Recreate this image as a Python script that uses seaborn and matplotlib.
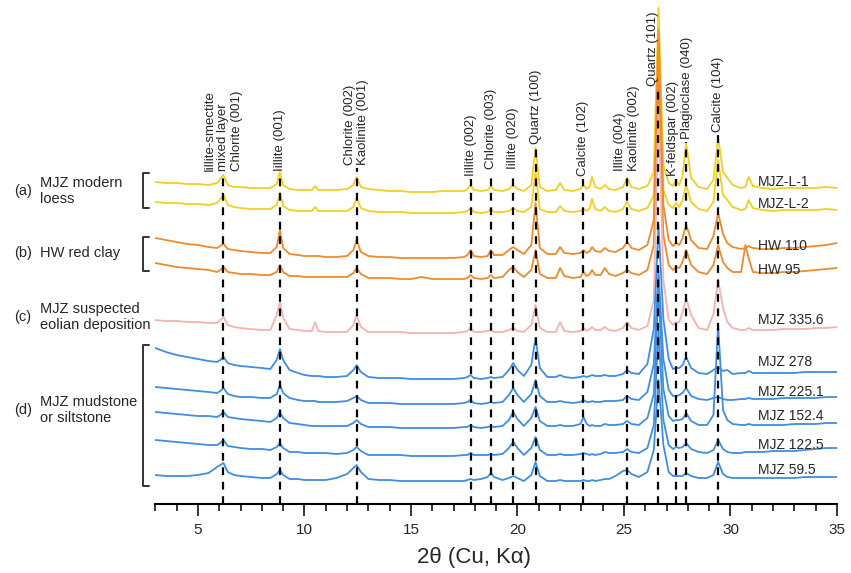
# XRD patterns of loess, red clay and Mingjiazhuang (MJZ) samples
import numpy as np
import pandas as pd
import matplotlib
matplotlib.use("Agg")
import matplotlib.pyplot as plt
import seaborn as sns

# 2-theta grid (deg), rows: 3-7, 7.5-11, 11.5-16, 16.5-20, 20.3-24.1, 24.3-28.15, 28.5-35
two_theta = [
    3.0, 3.5, 4.0, 4.5, 5.0, 5.5, 5.9, 6.05, 6.2, 6.4, 6.7, 7.0,
    7.5, 8.0, 8.4, 8.7, 8.85, 9.0, 9.3, 9.7, 10.0, 10.35, 10.5, 10.65, 11.0,
    11.5, 12.0, 12.3, 12.45, 12.65, 13.0, 13.5, 14.0, 14.5, 15.0, 15.5, 16.0,
    16.5, 17.0, 17.5, 17.65, 17.8, 17.95, 18.3, 18.6, 18.75, 18.9, 19.3, 19.6, 19.8, 20.0,
    20.3, 20.65, 20.85, 21.05, 21.4, 21.8, 22.0, 22.2, 22.6, 22.95, 23.1, 23.25, 23.4, 23.5, 23.65, 23.9, 24.1,
    24.3, 24.6, 24.95, 25.15, 25.35, 25.7, 26.1, 26.4, 26.62, 26.85, 27.1, 27.3, 27.45, 27.6, 27.75, 27.92, 28.15,
    28.5, 28.9, 29.2, 29.42, 29.65, 29.85, 30.1, 30.5, 30.7, 30.85, 31.05, 31.5, 32.0, 32.5, 33.0, 33.5, 34.0, 34.5, 35.0,
]

# stacked intensities (a.u., offset already applied)
mjz_l1 = [
    322, 321, 321, 320, 320, 319, 321, 325, 329, 319, 317, 317,
    316, 316, 316, 320, 332, 319, 315, 314, 314, 314, 318, 314, 314,
    314, 315, 319, 327, 317, 315, 314, 313, 313, 312, 312, 312,
    313, 313, 313, 315, 319, 314, 313, 314, 318, 314, 313, 315, 319, 315,
    313, 319, 356, 317, 313, 314, 321, 314, 313, 315, 319, 315, 318, 327, 317, 315, 319,
    315, 314, 317, 326, 317, 315, 318, 332, 496, 339, 321, 318, 324, 319, 328, 361, 326,
    317, 315, 324, 367, 332, 326, 319, 316, 317, 327, 318, 316, 315, 316, 316, 316, 316, 317, 316,
]
mjz_l2 = [
    302, 301, 301, 300, 300, 299, 301, 305, 309, 299, 297, 296,
    295, 295, 295, 299, 311, 298, 294, 293, 293, 293, 297, 293, 293,
    293, 293, 297, 306, 296, 293, 292, 292, 292, 291, 291, 291,
    291, 291, 292, 293, 296, 292, 291, 292, 295, 292, 292, 293, 296, 293,
    292, 297, 332, 295, 292, 292, 298, 293, 292, 293, 295, 293, 296, 305, 295, 293, 297,
    293, 292, 295, 302, 295, 293, 296, 309, 459, 314, 299, 296, 301, 297, 304, 319, 302,
    295, 293, 302, 344, 309, 304, 297, 294, 295, 304, 296, 294, 293, 294, 294, 294, 294, 295, 294,
]
hw_110 = [
    266, 264, 262, 260, 259, 257, 256, 258, 260, 255, 254, 253,
    252, 251, 251, 257, 274, 256, 250, 249, 248, 248, 248, 248, 247,
    247, 248, 254, 264, 252, 248, 247, 247, 246, 246, 246, 246,
    246, 246, 247, 249, 254, 248, 247, 248, 254, 249, 249, 254, 257, 254,
    250, 259, 301, 256, 250, 250, 257, 251, 250, 251, 254, 251, 253, 257, 253, 252, 256,
    253, 252, 256, 262, 256, 254, 259, 284, 474, 299, 264, 258, 261, 259, 266, 279, 264,
    256, 255, 268, 291, 270, 261, 257, 255, 256, 258, 256, 255, 255, 256, 256, 257, 258, 259, 261,
]
hw_95 = [
    241, 239, 237, 236, 235, 234, 232, 234, 237, 232, 231, 230,
    230, 229, 229, 232, 239, 232, 228, 228, 227, 227, 227, 227, 227,
    227, 227, 231, 236, 230, 226, 226, 226, 225, 225, 227, 225,
    225, 225, 225, 226, 229, 226, 225, 226, 229, 226, 227, 234, 237, 232,
    227, 234, 254, 230, 226, 226, 236, 228, 226, 227, 232, 228, 230, 234, 229, 229, 236,
    230, 228, 231, 234, 231, 229, 234, 259, 434, 269, 239, 234, 237, 236, 242, 254, 239,
    232, 230, 239, 259, 242, 236, 232, 232, 259, 246, 232, 231, 231, 232, 232, 233, 234, 235, 236,
]
mjz_335 = [
    184, 183, 183, 182, 182, 181, 181, 184, 187, 179, 177, 176,
    175, 174, 174, 189, 202, 186, 175, 174, 173, 173, 182, 173, 172,
    172, 172, 179, 189, 177, 172, 172, 172, 172, 171, 171, 171,
    171, 171, 172, 173, 176, 172, 172, 173, 174, 172, 172, 174, 176, 173,
    172, 179, 199, 176, 172, 172, 182, 173, 172, 173, 176, 173, 175, 177, 174, 174, 177,
    174, 173, 176, 182, 176, 174, 178, 204, 394, 224, 184, 179, 182, 182, 192, 206, 189,
    176, 174, 190, 224, 196, 182, 176, 174, 174, 176, 174, 174, 174, 175, 175, 175, 176, 176, 177,
]
mjz_278 = [
    156, 152, 149, 147, 145, 143, 142, 144, 147, 141, 139, 138,
    137, 136, 135, 144, 155, 144, 134, 131, 129, 128, 128, 128, 127,
    127, 128, 134, 139, 132, 127, 126, 126, 126, 125, 125, 125,
    125, 125, 126, 127, 129, 126, 125, 126, 127, 126, 127, 134, 141, 134,
    128, 139, 166, 136, 127, 127, 129, 127, 126, 127, 128, 127, 128, 129, 128, 128, 129,
    128, 128, 130, 134, 131, 130, 140, 175, 279, 185, 145, 135, 136, 136, 139, 147, 136,
    131, 130, 134, 137, 133, 134, 130, 131, 131, 133, 131, 131, 131, 131, 131, 132, 132, 132, 132,
]
mjz_225 = [
    117, 116, 115, 114, 113, 112, 111, 113, 116, 110, 108, 107,
    107, 106, 106, 110, 119, 111, 106, 104, 103, 103, 103, 102, 102,
    102, 103, 106, 108, 104, 101, 101, 101, 100, 100, 100, 100,
    100, 100, 101, 102, 104, 101, 100, 101, 102, 101, 102, 109, 116, 109,
    102, 110, 124, 108, 102, 102, 103, 102, 101, 102, 104, 102, 102, 103, 102, 102, 103,
    103, 103, 104, 108, 105, 104, 112, 140, 234, 145, 114, 108, 108, 109, 111, 116, 108,
    105, 104, 106, 107, 105, 104, 104, 105, 105, 106, 105, 105, 105, 106, 106, 106, 106, 107, 107,
]
mjz_152 = [
    92, 91, 90, 89, 88, 88, 87, 89, 92, 87, 86, 85,
    84, 83, 82, 86, 92, 86, 81, 80, 79, 78, 78, 78, 78,
    78, 78, 81, 84, 80, 77, 77, 77, 76, 76, 76, 76,
    76, 76, 77, 77, 79, 77, 76, 77, 78, 77, 78, 84, 92, 85,
    78, 86, 97, 83, 78, 78, 79, 78, 78, 80, 87, 80, 78, 79, 78, 78, 80,
    79, 79, 80, 83, 80, 79, 86, 110, 214, 115, 88, 83, 84, 84, 85, 91, 83,
    79, 79, 89, 179, 94, 84, 80, 79, 79, 80, 79, 79, 79, 79, 80, 80, 80, 81, 81,
]
mjz_122 = [
    64, 63, 62, 61, 60, 59, 59, 61, 64, 58, 57, 56,
    55, 55, 54, 57, 61, 56, 52, 52, 51, 51, 51, 51, 51,
    50, 51, 54, 57, 53, 49, 49, 49, 49, 48, 48, 48,
    48, 48, 49, 49, 51, 49, 49, 49, 50, 49, 50, 56, 62, 56,
    49, 56, 67, 54, 49, 49, 50, 49, 49, 50, 51, 50, 49, 50, 49, 50, 52,
    51, 51, 52, 55, 52, 51, 56, 79, 174, 84, 59, 55, 57, 56, 57, 61, 55,
    52, 51, 54, 64, 55, 52, 51, 51, 52, 52, 52, 52, 53, 53, 53, 54, 55, 56, 56,
]
mjz_59 = [
    29, 28, 28, 28, 29, 31, 37, 39, 41, 32, 29, 28,
    27, 26, 26, 30, 34, 29, 25, 25, 24, 24, 24, 24, 24,
    26, 30, 36, 39, 32, 25, 24, 24, 23, 23, 23, 23,
    23, 23, 23, 24, 25, 24, 25, 27, 31, 27, 24, 26, 28, 26,
    23, 29, 42, 28, 23, 23, 24, 23, 23, 23, 24, 23, 23, 24, 23, 24, 25,
    25, 28, 33, 34, 30, 27, 32, 54, 124, 59, 32, 28, 28, 28, 28, 31, 28,
    26, 26, 29, 42, 30, 27, 26, 26, 26, 26, 26, 26, 26, 26, 26, 27, 27, 27, 27,
]

samples = ["MJZ-L-1", "MJZ-L-2", "HW 110", "HW 95", "MJZ 335.6",
           "MJZ 278", "MJZ 225.1", "MJZ 152.4", "MJZ 122.5", "MJZ 59.5"]
series = [mjz_l1, mjz_l2, hw_110, hw_95, mjz_335,
          mjz_278, mjz_225, mjz_152, mjz_122, mjz_59]
colors = ["#f3cf1f", "#f3cf1f", "#f08a2a", "#f08a2a", "#f6b2b2",
          "#3c8fe4", "#3c8fe4", "#3c8fe4", "#3c8fe4", "#3c8fe4"]

# reference peaks
peak_pos = [6.2, 8.85, 12.45, 17.8, 18.75, 19.8, 20.85, 23.1, 25.15, 26.62, 27.45, 27.92, 29.42]
peak_names = ["Iillite-smectite\nmixed layer\nChlorite (001)", "Iillite (001)",
              "Chlorite (002)\nKaolinite (001)", "Iillite (002)", "Chlorite (003)",
              "Iillite (020)", "Quartz (100)", "Calcite (102)",
              "Illite (004)\nKaolinite (002)", "Quartz (101)", "K-feldspar (002)",
              "Plagioclase (040)", "Calcite (104)"]
line_tops = [330, 330, 336, 325, 332, 332, 357, 325, 330, 415, 325, 362, 369]
label_dx = [0, 0, 0, 0, 0, 0, 0, 0, 0, -0.28, -0.17, 0.05, 0]

for name, vals in zip(samples, series):
    assert len(vals) == len(two_theta), name

df = pd.concat([pd.DataFrame({"two_theta": two_theta, "intensity": vals, "sample": name})
                for name, vals in zip(samples, series)], ignore_index=True)

sns.set_style("white")
plt.rcParams['font.family'] = ['Liberation Sans', 'DejaVu Sans']

fig = plt.figure(figsize=(8.51, 5.73), dpi=100)
ax = fig.add_axes([155.3 / 851, 69 / 573, 681.7 / 851, 499 / 573])

sns.lineplot(data=df, x="two_theta", y="intensity", hue="sample", hue_order=samples,
             palette=dict(zip(samples, colors)), estimator=None, sort=False,
             legend=False, linewidth=1.3, ax=ax)

# dashed peak markers + rotated labels
ax.vlines(peak_pos, 0, line_tops, colors="black", linestyles=(0, (3.5, 3)),
          linewidth=1.6, zorder=5)
for x, name, top, dx in zip(peak_pos, peak_names, line_tops, label_dx):
    ax.text(x + dx, top + 3, name, rotation=90, rotation_mode="anchor",
            ha="left", va="center", multialignment="left", fontsize=9.5,
            linespacing=1.15)

# sample names on the right
sample_y = [322, 300, 258, 234, 184, 142, 112, 88, 59, 34]
for name, y in zip(samples, sample_y):
    ax.text(31.3, y, name, ha="left", va="center", fontsize=10)

# group brackets
for y_top, y_bot in [(331, 296), (267, 233), (159, 18)]:
    ax.plot([2.7, 2.42, 2.42, 2.7], [y_top, y_top, y_bot, y_bot],
            color="#333333", linewidth=1.4, clip_on=False)

groups = [("(a)", "MJZ modern\nloess", 191),
          ("(b)", "HW red clay", 253),
          ("(c)", "MJZ suspected\neolian deposition", 317),
          ("(d)", "MJZ mudstone\nor siltstone", 410)]
for tag, text, ypix in groups:
    fig.text(14 / 851, 1 - ypix / 573, tag, ha="left", va="center", fontsize=10.5)
    fig.text(40 / 851, 1 - ypix / 573, text, ha="left", va="center", fontsize=10.5,
             linespacing=1.1)

ax.set_xlim(3, 35)
ax.set_ylim(0, 499)
ax.set_xticks(range(5, 36, 5))
ax.set_xticks(range(3, 36), minor=True)
ax.tick_params(axis="x", which="major", length=8.5, width=1.3, pad=5, labelsize=11,
               direction="out", bottom=True)
ax.tick_params(axis="x", which="minor", length=5, width=1.3, direction="out", bottom=True)
ax.set_yticks([])
ax.set_ylabel("")
for side in ["left", "top", "right"]:
    ax.spines[side].set_visible(False)
ax.spines["bottom"].set_linewidth(1.5)
ax.spines["bottom"].set_color("black")

ax.set_xlabel("2θ (Cu, Kα)", fontsize=16)
ax.xaxis.set_label_coords((474 - 155.3) / 681.7, -53 / 499)
ax.xaxis.label.set_va("center")

fig.savefig("out.png", dpi=100)
